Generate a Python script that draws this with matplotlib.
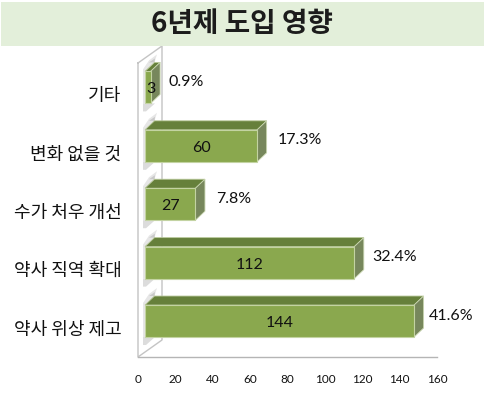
import matplotlib
matplotlib.use('Agg')
import matplotlib.pyplot as plt
from matplotlib.patches import Polygon, Rectangle
from matplotlib.transforms import ScaledTranslation

plt.rcParams['font.family'] = ['Lato', 'Noto Sans CJK KR', 'DejaVu Sans']

# data, bottom bar first
categories = ['약사 위상 제고', '약사 직역 확대', '수가 처우 개선', '변화 없을 것', '기타']
counts = [144, 112, 27, 60, 3]
percents = ['41.6%', '32.4%', '7.8%', '17.3%', '0.9%']
x_ticks = [0, 20, 40, 60, 80, 100, 120, 140, 160]
title = '6년제 도입 영향'

W, H = 487, 395
fig = plt.figure(figsize=(W / 100, H / 100), dpi=100)

# title band
fig.add_artist(Rectangle((1 / W, 1 - 46 / H), 483 / W, 44 / H, transform=fig.transFigure,
                         facecolor='#e3efda', edgecolor='none'))
fig.text(242 / W, 1 - 24.5 / H, title, ha='center', va='center', fontsize=20,
         color='#1c1c1c', family=['Noto Sans CJK KR'], weight='bold')

# plot box in pixels
left, right, top, floor = 138, 437, 46, 357
ax = fig.add_axes([left / W, 1 - floor / H, (right - left) / W, (floor - top) / H])
ax.set_xlim(0, 160)
ax.set_ylim(-0.616, 4.709)
ax.patch.set_alpha(0)
for s in ['top', 'right', 'left']:
    ax.spines[s].set_visible(False)
ax.spines['bottom'].set_color('#b5b5b5')
ax.spines['bottom'].set_linewidth(1)

ux = 160 / (right - left)      # data per pixel
uy = (4.709 + 0.616) / (floor - top)
offset = 7 * ux
bar_h = 32 * uy
dx, dy = 9.5 * ux, 9 * uy
wall_dx, wall_dy = 24 * ux, 17 * uy
y0 = -0.616
y1 = 4.709 - wall_dy
label_gap = [5, 8, 11, 11, 8]  # the percent labels were placed by hand

# side wall, drawn from the axis limits
ax.plot([0, 0, wall_dx, wall_dx, 0], [y1, y0, y0 + wall_dy, y1 + wall_dy, y1],
        color='#c4c4c4', lw=1, clip_on=False, zorder=1)

for i, (v, p) in enumerate(zip(counts, percents)):
    low = i - bar_h / 2
    high = i + bar_h / 2
    # shadow on the wall, above and below the bar
    ax.add_patch(Polygon([[5 * ux, low], [offset, low], [offset + dx, high + dy],
                          [19 * ux, high + 17 * uy], [11 * ux, high + 11 * uy], [5 * ux, high + 2 * uy]],
                         facecolor='#e6e6e6', edgecolor='none', zorder=1.4, clip_on=False))
    ax.add_patch(Polygon([[7 * ux, high + dy], [offset + dx, high + dy], [17 * ux, high + 13 * uy],
                          [11 * ux, high + 9 * uy]],
                         facecolor='#c9c9c9', edgecolor='none', zorder=1.5, clip_on=False))
    ax.add_patch(Polygon([[5 * ux, low], [17 * ux, low], [8 * ux, low - 8 * uy], [5 * ux, low - 8 * uy]],
                         facecolor='#dcdcdc', edgecolor='none', zorder=1.5, clip_on=False))
    # top and side of the bar
    ax.add_patch(Polygon([[offset, high], [offset + dx, high + dy], [offset + v + dx, high + dy], [offset + v, high]],
                         facecolor='#66803b', edgecolor='#b9c99a', lw=0.6, zorder=2, clip_on=False))
    ax.add_patch(Polygon([[offset + v, low], [offset + v + dx, low + dy], [offset + v + dx, high + dy], [offset + v, high]],
                         facecolor='#77875c', edgecolor='#c9d6b0', lw=0.6, zorder=2, clip_on=False))
    ax.barh(i, v, height=bar_h, left=offset, color='#8aa84e', edgecolor='#c3d3a2', lw=0.8, zorder=3)
    shift = 3 * ux if v < 5 else 0  # the narrow bar's label sits over its side
    ax.text(offset + v / 2 + shift, i - 2 * uy, str(v), ha='center', va='center', fontsize=11.5,
            color='#111111', zorder=4)
    ax.text(offset + v + dx + label_gap[i] * ux, i + 5.5 * uy, p, ha='left', va='center', fontsize=11.5,
            color='#111111', zorder=4, clip_on=False)

ax.set_xticks(x_ticks)
ax.tick_params(axis='x', length=0, pad=12, labelsize=8.5, labelcolor='#111111')
ax.set_yticks(range(len(categories)))
ax.set_yticklabels(categories, fontsize=13, color='#111111', family=['Noto Sans CJK KR'],
                   va='center')
ax.tick_params(axis='y', length=0, pad=12)
# category labels sit a little lower than the bars
for lab in ax.get_yticklabels():
    lab.set_transform(lab.get_transform() + ScaledTranslation(0, -8.5 / 100, fig.dpi_scale_trans))

fig.savefig('out.png', dpi=100)
